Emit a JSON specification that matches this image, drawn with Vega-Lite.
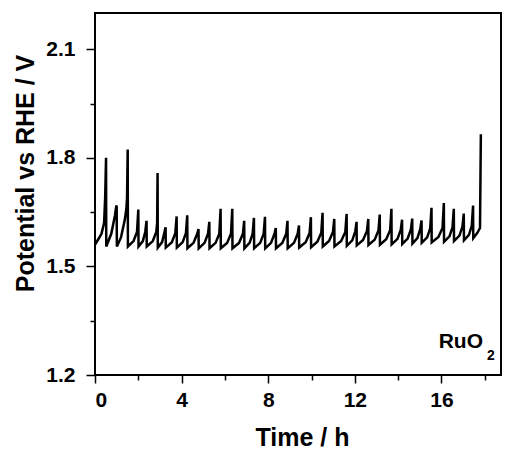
{
  "$schema": "https://vega.github.io/schema/vega-lite/v6.json",
  "width": 406,
  "height": 362,
  "autosize": {"type": "none"},
  "padding": {"left": 95, "top": 13, "right": 7, "bottom": 74},
  "background": "white",
  "config": {
    "view": {"stroke": "black", "strokeWidth": 2},
    "font": "Liberation Sans",
    "axis": {
      "domain": false,
      "grid": false,
      "tickColor": "black",
      "tickWidth": 1.5,
      "labelColor": "black",
      "labelFont": "Liberation Sans",
      "labelFontSize": 21,
      "labelFontWeight": "bold",
      "titleColor": "black",
      "titleFont": "Liberation Sans",
      "titleFontSize": 25,
      "titleFontWeight": "bold"
    }
  },
  "layer": [
    {
      "data": {"values": [
        {"t":0,"v":1.56},{"t":0.15,"v":1.575},{"t":0.3,"v":1.59},{"t":0.42,"v":1.62},{"t":0.47,"v":1.69},{"t":0.51,"v":1.80},
        {"t":0.52,"v":1.555},{"t":0.75,"v":1.59},{"t":0.92,"v":1.64},{"t":0.98,"v":1.665},{"t":1.0,"v":1.668},
        {"t":1.01,"v":1.555},{"t":1.2,"v":1.58},{"t":1.38,"v":1.63},{"t":1.45,"v":1.66},{"t":1.48,"v":1.69},{"t":1.51,"v":1.823},
        {"t":1.52,"v":1.555},{"t":1.78,"v":1.57},{"t":1.94,"v":1.595},{"t":2.0,"v":1.657},
        {"t":2.01,"v":1.555},{"t":2.21,"v":1.57},{"t":2.32,"v":1.595},{"t":2.38,"v":1.626},
        {"t":2.39,"v":1.555},{"t":2.67,"v":1.57},{"t":2.83,"v":1.595},{"t":2.87,"v":1.62},{"t":2.89,"v":1.758},
        {"t":2.9,"v":1.552},{"t":3.1,"v":1.567},{"t":3.2,"v":1.592},{"t":3.26,"v":1.608},
        {"t":3.27,"v":1.552},{"t":3.55,"v":1.567},{"t":3.71,"v":1.592},{"t":3.77,"v":1.638},
        {"t":3.78,"v":1.552},{"t":4.05,"v":1.567},{"t":4.2,"v":1.592},{"t":4.26,"v":1.641},
        {"t":4.27,"v":1.55},{"t":4.55,"v":1.565},{"t":4.72,"v":1.59},{"t":4.78,"v":1.603},
        {"t":4.79,"v":1.55},{"t":5.06,"v":1.565},{"t":5.22,"v":1.59},{"t":5.28,"v":1.623},
        {"t":5.29,"v":1.55},{"t":5.57,"v":1.565},{"t":5.74,"v":1.59},{"t":5.8,"v":1.659},
        {"t":5.81,"v":1.55},{"t":6.1,"v":1.565},{"t":6.28,"v":1.59},{"t":6.34,"v":1.659},
        {"t":6.35,"v":1.55},{"t":6.65,"v":1.565},{"t":6.83,"v":1.59},{"t":6.89,"v":1.626},
        {"t":6.9,"v":1.55},{"t":7.14,"v":1.565},{"t":7.28,"v":1.59},{"t":7.34,"v":1.634},
        {"t":7.35,"v":1.55},{"t":7.63,"v":1.565},{"t":7.79,"v":1.59},{"t":7.85,"v":1.637},
        {"t":7.86,"v":1.55},{"t":8.13,"v":1.565},{"t":8.29,"v":1.59},{"t":8.35,"v":1.606},
        {"t":8.36,"v":1.55},{"t":8.65,"v":1.565},{"t":8.83,"v":1.59},{"t":8.89,"v":1.626},
        {"t":8.9,"v":1.55},{"t":9.19,"v":1.565},{"t":9.36,"v":1.59},{"t":9.42,"v":1.613},
        {"t":9.43,"v":1.552},{"t":9.73,"v":1.567},{"t":9.91,"v":1.592},{"t":9.97,"v":1.636},
        {"t":9.98,"v":1.553},{"t":10.27,"v":1.568},{"t":10.45,"v":1.593},{"t":10.51,"v":1.648},
        {"t":10.52,"v":1.555},{"t":10.81,"v":1.57},{"t":10.99,"v":1.595},{"t":11.05,"v":1.631},
        {"t":11.06,"v":1.555},{"t":11.37,"v":1.57},{"t":11.56,"v":1.595},{"t":11.62,"v":1.645},
        {"t":11.63,"v":1.557},{"t":11.88,"v":1.572},{"t":12.02,"v":1.597},{"t":12.08,"v":1.623},
        {"t":12.09,"v":1.558},{"t":12.38,"v":1.573},{"t":12.56,"v":1.598},{"t":12.62,"v":1.631},
        {"t":12.63,"v":1.559},{"t":12.92,"v":1.574},{"t":13.09,"v":1.599},{"t":13.15,"v":1.643},
        {"t":13.16,"v":1.56},{"t":13.45,"v":1.575},{"t":13.63,"v":1.6},{"t":13.69,"v":1.659},
        {"t":13.7,"v":1.561},{"t":13.97,"v":1.576},{"t":14.12,"v":1.601},{"t":14.18,"v":1.629},
        {"t":14.19,"v":1.562},{"t":14.44,"v":1.577},{"t":14.59,"v":1.602},{"t":14.65,"v":1.632},
        {"t":14.66,"v":1.563},{"t":14.89,"v":1.578},{"t":15.02,"v":1.603},{"t":15.08,"v":1.627},
        {"t":15.09,"v":1.565},{"t":15.34,"v":1.58},{"t":15.48,"v":1.605},{"t":15.54,"v":1.662},
        {"t":15.55,"v":1.566},{"t":15.86,"v":1.581},{"t":16.05,"v":1.606},{"t":16.11,"v":1.675},
        {"t":16.12,"v":1.568},{"t":16.37,"v":1.583},{"t":16.51,"v":1.608},{"t":16.57,"v":1.659},
        {"t":16.58,"v":1.57},{"t":16.83,"v":1.585},{"t":16.97,"v":1.61},{"t":17.03,"v":1.646},
        {"t":17.04,"v":1.572},{"t":17.27,"v":1.587},{"t":17.4,"v":1.612},{"t":17.46,"v":1.668},
        {"t":17.47,"v":1.578},{"t":17.65,"v":1.592},{"t":17.78,"v":1.606},{"t":17.82,"v":1.865}
      ]},
      "mark": {"type": "line", "color": "black", "strokeWidth": 2.5, "clip": true},
      "encoding": {
        "x": {
          "field": "t", "type": "quantitative",
          "scale": {"domain": [0, 18.75], "nice": false, "zero": false},
          "axis": {
            "title": "Time / h",
            "values": [0, 2, 4, 6, 8, 10, 12, 14, 16, 18],
            "labelExpr": "datum.value % 4 === 0 ? datum.label : ''",
            "tickSize": {"condition": {"test": "datum.value % 4 === 0", "value": 8}, "value": 5},
            "labelPadding": 6,
            "titleX": 207,
            "titleY": 70,
            "titleBaseline": "alphabetic"
          }
        },
        "y": {
          "field": "v", "type": "quantitative",
          "scale": {"domain": [1.2, 2.2], "nice": false, "zero": false},
          "axis": {
            "title": "Potential vs RHE / V",
            "values": [1.2, 1.35, 1.5, 1.65, 1.8, 1.95, 2.1],
            "labelExpr": "round(datum.value*100) % 30 === 0 ? format(datum.value, '.1f') : ''",
            "tickSize": {"condition": {"test": "round(datum.value*100) % 30 === 0", "value": 9}, "value": 5},
            "labelPadding": 11,
            "titleX": -62,
            "titleY": 160,
            "titleBaseline": "alphabetic"
          }
        }
      }
    },
    {
      "data": {"values": [{"t": 17.92, "v": 1.2755, "s": "RuO"}]},
      "mark": {"type": "text", "align": "right", "baseline": "alphabetic", "fontSize": 21, "fontWeight": "bold", "font": "Liberation Sans", "color": "black"},
      "encoding": {
        "x": {"field": "t", "type": "quantitative"},
        "y": {"field": "v", "type": "quantitative"},
        "text": {"field": "s"}
      }
    },
    {
      "data": {"values": [{"t": 18.1, "v": 1.2415, "s": "2"}]},
      "mark": {"type": "text", "align": "left", "baseline": "alphabetic", "fontSize": 14, "fontWeight": "bold", "font": "Liberation Sans", "color": "black"},
      "encoding": {
        "x": {"field": "t", "type": "quantitative"},
        "y": {"field": "v", "type": "quantitative"},
        "text": {"field": "s"}
      }
    }
  ]
}
